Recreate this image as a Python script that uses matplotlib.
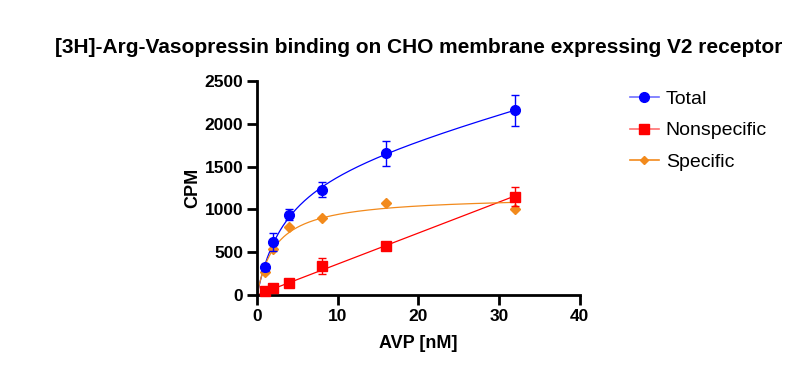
import numpy as np
import matplotlib
matplotlib.use("Agg")
import matplotlib.pyplot as plt
from matplotlib.lines import Line2D

plt.rcParams['font.family'] = ['Liberation Sans', 'DejaVu Sans']

conc = [1, 2, 4, 8, 16, 32]
total = [325, 620, 940, 1230, 1655, 2160]
total_err = [40, 110, 60, 85, 145, 180]
nonspec = [50, 85, 135, 335, 575, 1150]
nonspec_err = [15, 25, 20, 95, 30, 115]
specific = [265, 535, 800, 895, 1080, 1005]

x = np.array(conc, float)
xs = np.linspace(0, 32, 300)

# Nonspecific: linear fit through origin
ns_slope = np.sum(x * np.array(nonspec)) / np.sum(x * x)

# Specific: one-site fit (grid over Kd)
best = None
for K in np.linspace(0.1, 20, 2000):
    g = x / (K + x)
    B = np.sum(g * np.array(specific)) / np.sum(g * g)
    r = np.sum((B * g - np.array(specific)) ** 2)
    if best is None or r < best[0]:
        best = (r, K, B)
_, Ks, Bs = best

# Total: one-site + linear nonspecific
bestT = None
for K in np.linspace(0.1, 30, 3000):
    A = np.column_stack([x / (K + x), x])
    coef, *_ = np.linalg.lstsq(A, np.array(total, float), rcond=None)
    r = np.sum((A @ coef - np.array(total)) ** 2)
    if bestT is None or r < bestT[0]:
        bestT = (r, K, coef)
_, Kt, (Bt, Nt) = bestT

fig = plt.figure(figsize=(8.11, 3.77), dpi=100)
ax = fig.add_axes([0.317, 0.2175, 0.398, 0.5675])

blue = '#0000FF'
red = '#FF0000'
orange = '#F28A1C'

ax.plot(xs, Bt * xs / (Kt + xs) + Nt * xs, color=blue, lw=0.9, zorder=2)
ax.plot(xs, ns_slope * xs, color=red, lw=0.9, zorder=2)
ax.plot(xs, Bs * xs / (Ks + xs), color=orange, lw=0.9, zorder=2)

ax.errorbar(conc, total, yerr=total_err, fmt='o', color=blue, ms=7,
            capsize=3, elinewidth=1, capthick=1, zorder=4, clip_on=False)
ax.errorbar(conc, nonspec, yerr=nonspec_err, fmt='s', color=red, ms=7,
            capsize=3, elinewidth=1, capthick=1, zorder=4, clip_on=False)
ax.plot(conc, specific, 'D', color=orange, ms=5, zorder=3, clip_on=False)

ax.set_xlim(0, 40)
ax.set_ylim(0, 2500)
ax.set_xticks([0, 10, 20, 30, 40])
ax.set_yticks([0, 500, 1000, 1500, 2000, 2500])
for s in ['top', 'right']:
    ax.spines[s].set_visible(False)
for s in ['left', 'bottom']:
    ax.spines[s].set_linewidth(2)
ax.tick_params(width=2, length=7, labelsize=12.5, direction='out', pad=3)
for lab in ax.get_xticklabels() + ax.get_yticklabels():
    lab.set_fontweight('bold')
ax.set_xlabel('AVP [nM]', fontsize=13, fontweight='bold', labelpad=8)
ax.set_ylabel('CPM', fontsize=13, fontweight='bold', labelpad=2)

fig.text(0.516, 0.875, '[3H]-Arg-Vasopressin binding on CHO membrane expressing V2 receptor',
         ha='center', va='center', fontsize=15, fontweight='bold')

handles = [
    Line2D([], [], color='#6F6FFF', marker='o', mfc=blue, mec=blue, ms=7, lw=1.2),
    Line2D([], [], color='#FF6F6F', marker='s', mfc=red, mec=red, ms=6.5, lw=1.2),
    Line2D([], [], color=orange, marker='D', mfc=orange, mec=orange, ms=4.5, lw=1.2),
]
fig.legend(handles, ['Total', 'Nonspecific', 'Specific'], loc='upper left',
           bbox_to_anchor=(0.755, 0.807), frameon=False, fontsize=14,
           handlelength=1.5, labelspacing=0.72, handletextpad=0.35)

fig.savefig('out.png', dpi=100)
